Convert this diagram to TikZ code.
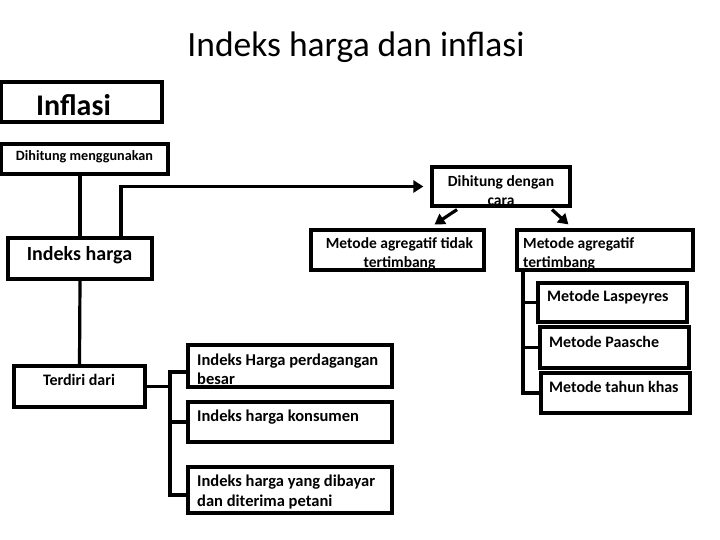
\documentclass[tikz,border=0pt]{standalone}
\usepackage{fontspec}
\setmainfont{Carlito}
\usetikzlibrary{fit,calc,arrows.meta}
\newcommand{\fsz}[2]{\fontsize{#1pt}{#2pt}\selectfont}
\begin{document}
\begin{tikzpicture}[x=1pt,y=-1pt,
  box/.style={draw, line width=3.2pt, inner sep=0pt, rectangle},
  con/.style={line width=3.2pt},
  arr/.style={line width=3.2pt, -{Triangle[length=10pt,width=12pt]}},
  lbl/.style={inner sep=0pt, font=\bfseries\fsz{15.5}{19}},
  lbb/.style={inner sep=0pt, font=\bfseries\fsz{16.5}{19}},
  lbr/.style={inner sep=0pt, font=\bfseries\fsz{16}{19}},
]
\useasboundingbox (0,0) rectangle (720,540);

% title
\node[inner sep=0pt, font=\fsz{35.5}{42}] (title) at (356,47) {Indeks harga dan inflasi};

% boxes
\node[box, fit={(1.5,82) (162,122)}] (inflasi) {};
\node[box, fit={(1.5,144) (168,174)}] (menggunakan) {};
\node[box, fit={(432,167) (570,206)}] (dengan) {};
\node[box, fit={(311,230) (484,270)}] (tidak) {};
\node[box, fit={(517,230) (693,270)}] (tertimbang) {};
\node[box, fit={(8,238) (152,279)}] (ih) {};
\node[box, fit={(14,366) (145,407)}] (terdiri) {};
\node[box, fit={(188,345) (392,387)}] (besar) {};
\node[box, fit={(188,402) (392,442)}] (konsumen) {};
\node[box, fit={(188,467) (392,513)}] (petani) {};
\node[box, fit={(538,283) (687,322)}] (lasp) {};
\node[box, fit={(540,327) (689,368)}] (paasche) {};
\node[box, fit={(541,373) (690,413)}] (khas) {};

% texts
\node[lbl, font=\bfseries\fsz{30}{36}] (tInflasi) at (73.5,105) {Inflasi};
\node[lbl, font=\bfseries\fsz{14.2}{18}] (tMeng) at (84.5,157) {Dihitung menggunakan};
\node[lbl, align=center] (tDengan) at (501,191) {Dihitung dengan\\cara};
\node[lbl, align=center] (tTidak) at (399.5,254) {Metode agregatif tidak\\tertimbang};
\node[lbl, align=left, anchor=west] (tTert) at (523,254) {Metode agregatif\\tertimbang};
\node[lbl, font=\bfseries\fsz{20}{24}] (tIh) at (79.5,255) {Indeks harga};
\node[lbr] (tTerdiri) at (79,380) {Terdiri dari};
\node[lbb, align=left, anchor=west] (tBesar) at (197,369) {Indeks Harga perdagangan\\besar};
\node[lbb, anchor=west] (tKons) at (197,417) {Indeks harga konsumen};
\node[lbb, align=left, anchor=west, font=\bfseries\fsz{16.5}{20}] (tPetani) at (197,492) {Indeks harga yang dibayar\\dan diterima petani};
\node[lbr, anchor=west] (tLasp) at (547,297) {Metode Laspeyres};
\node[lbr, anchor=west] (tPaas) at (549,342) {Metode Paasche};
\node[lbr, anchor=west] (tKhas) at (549,387) {Metode tahun khas};

% connectors
\draw[con] (ih.north) -- (ih.north |- menggunakan.south);
\draw[arr] ($(ih.north)+(41,0)$) |- ($(dengan.west)+(-7,0)$);
\draw[arr] ($(dengan.south)+(-44,2)$) -- ($(tidak.north east)+(-51,-4)$);
\draw[arr] ($(dengan.south)+(51,2)$) -- ($(tertimbang.north west)+(53,-4)$);
\draw[con] (ih.south) -- (terdiri.north);

\coordinate (tl) at (170,372);
\coordinate (tb) at (170,495);
\draw[con] (besar.west |- tl) -- (tl) -- (tb) -- (petani.west |- tb);
\draw[con] (konsumen.west) -- (konsumen.west -| tl);
\draw[con] (terdiri.east) -- (terdiri.east -| tl);

\coordinate (rt) at (523,270);
\coordinate (rb) at (523,393);
\draw[con] (rt) -- (rb) -- (khas.west);
\draw[con] (lasp.west) -- (lasp.west -| rt);
\draw[con] (paasche.west) -- (paasche.west -| rt);
\end{tikzpicture}
\end{document}
